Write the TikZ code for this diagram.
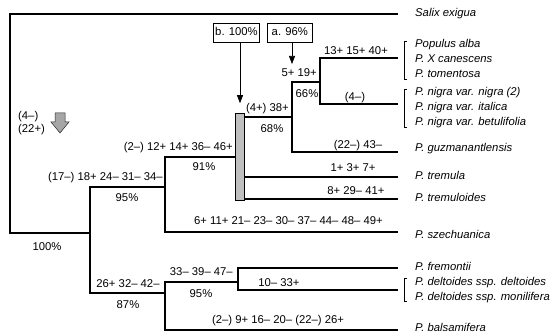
\documentclass[tikz,border=0pt]{standalone}
\usepackage{fontspec}
\setmainfont{Liberation Sans}
\usetikzlibrary{positioning, arrows.meta}

\begin{document}
\begin{tikzpicture}[
    x=1pt, y=-1pt,
    branch/.style={line width=1.9pt},
    lbl/.style={font=\fontsize{11.3}{13}\selectfont, inner sep=1pt, text height=8.5pt, text depth=2.5pt},
    taxon/.style={lbl, font=\fontsize{11.3}{13}\selectfont\itshape, anchor=west},
    brk/.style={line width=0.5pt},
    tag/.style={lbl, draw, line width=0.6pt, minimum width=45pt, minimum height=19pt, inner sep=2pt},
    ptr/.style={-{Triangle[length=8pt,width=6pt]}, line width=0.6pt},
    cladebox/.style={draw, line width=0.6pt, fill=gray!50, minimum width=9pt, minimum height=87pt, inner sep=0pt},
    bigarrow/.style={draw=black!85, line width=0.5pt, fill=gray!70}
]
\useasboundingbox (0,0) rectangle (560,334);

% branch points and tips
\coordinate (root) at (10,124);
\coordinate (nA) at (90,233);
\coordinate (nB) at (165,187);
\coordinate (nE) at (165,293);
\coordinate (nD) at (292,117);
\coordinate (nF) at (320,82);
\coordinate (nG) at (238,282);
\coordinate (tSal) at (398,14);
\coordinate (tPop) at (398,58);
\coordinate (tNig) at (398,104);
\coordinate (tGuz) at (398,152);
\coordinate (tTre) at (398,177);
\coordinate (tTrd) at (398,199);
\coordinate (tSze) at (398,232);
\coordinate (tFre) at (398,268);
\coordinate (tDel) at (398,290);
\coordinate (tBal) at (398,330);

\node[cladebox] (clade) at (240,157) {};

% tree
\draw[branch] (root) |- (tSal);
\draw[branch] (root) |- (nA);
\draw[branch] (nA) |- (nB);
\draw[branch] (nA) |- (nE);
\draw[branch] (nB) |- (clade.west);
\draw[branch] (nB) |- (tSze);
\draw[branch] (nD -| clade.east) -- (nD);
\draw[branch] (tTre -| clade.east) -- (tTre);
\draw[branch] (tTrd -| clade.east) -- (tTrd);
\draw[branch] (nD) |- (nF);
\draw[branch] (nD) |- (tGuz);
\draw[branch] (nF) |- (tPop);
\draw[branch] (nF) |- (tNig);
\draw[branch] (nE) |- (nG);
\draw[branch] (nE) |- (tBal);
\draw[branch] (nG) |- (tFre);
\draw[branch] (nG) |- (tDel);

% taxa
\node[taxon] (sal) at (414,14) {Salix exigua};
\node[taxon] (popA) at (414,45) {Populus alba};
\node[taxon] (popB) at (414,60) {P. X canescens};
\node[taxon] (popC) at (414,75) {P. tomentosa};
\node[taxon] (nigA) at (414,93) {P. nigra var. nigra (2)};
\node[taxon] (nigB) at (414,108) {P. nigra var. italica};
\node[taxon] (nigC) at (414,123) {P. nigra var. betulifolia};
\node[taxon] (guz) at (414,149) {P. guzmanantlensis};
\node[taxon] (tre) at (414,176) {P. tremula};
\node[taxon] (trd) at (414,199) {P. tremuloides};
\node[taxon] (sze) at (414,236) {P. szechuanica};
\node[taxon] (fre) at (414,267) {P. fremontii};
\node[taxon] (delA) at (414,282) {P. deltoides ssp. deltoides};
\node[taxon] (delB) at (414,297) {P. deltoides ssp. monilifera};
\node[taxon] (bal) at (414,328) {P. balsamifera};

\foreach \a/\b in {popA/popC, nigA/nigC, delA/delB}
    \draw[brk] ([xshift=-7pt,yshift=4pt]\a.west) -- ([xshift=-10pt,yshift=4pt]\a.west)
        -- ([xshift=-10pt,yshift=-4pt]\b.west) -- ([xshift=-7pt,yshift=-4pt]\b.west);

% character changes and bootstrap values
\node[lbl, anchor=south east] at (164,184.5) {(17–) 18+ 24– 31– 34–};
\node[lbl, anchor=north] at (127,191.5) {95\%};
\node[lbl, anchor=north] at (47,240.5) {100\%};
\node[lbl, anchor=south east] at (234,154.5) {(2–) 12+ 14+ 36– 46+};
\node[lbl, anchor=north] at (204,160.5) {91\%};
\node[lbl, anchor=south east] at (384,228.5) {6+ 11+ 21– 23– 30– 37– 44– 48– 49+};
\node[lbl, anchor=south east] at (290,115.5) {(4+) 38+};
\node[lbl, anchor=north] at (272,122.5) {68\%};
\node[lbl, anchor=south east] at (318,80.5) {5+ 19+};
\node[lbl] at (307,95) {66\%};
\node[lbl, anchor=south] at (356,58.5) {13+ 15+ 40+};
\node[lbl, anchor=south] at (355,104.5) {(4–)};
\node[lbl, anchor=south] at (358,152.5) {(22–) 43–};
\node[lbl, anchor=south] at (353,175.5) {1+ 3+ 7+};
\node[lbl, anchor=south] at (356,198.5) {8+ 29– 41+};
\node[lbl, anchor=south] at (128,291.5) {26+ 32– 42–};
\node[lbl, anchor=north] at (128,298.5) {87\%};
\node[lbl, anchor=south east] at (234,279.5) {33– 39– 47–};
\node[lbl, anchor=north] at (201,287.5) {95\%};
\node[lbl, anchor=south] at (279,290.5) {10– 33+};
\node[lbl, anchor=south] at (278,327.5) {(2–) 9+ 16– 20– (22–) 26+};

% root marker
\node[lbl, anchor=west] (lossA) at (17,117) {(4–)};
\node[lbl, anchor=west] (lossB) at (17,130) {(22+)};
\draw[bigarrow] (55,113) -- (65,113) -- (65,122) -- (69,122) -- (60,133)
    -- (51,122) -- (55,122) -- cycle;

% analyses
\node[tag] (bbox) at (236.5,32.5) {b. 100\%};
\node[tag, right=7pt of bbox] (abox) {a. 96\%};
\draw[ptr, shorten >=10pt] (bbox.south -| clade.north) -- (clade.north);
\draw[ptr, shorten >=18pt] (abox.south -| nD) -- (nD |- nF);
\end{tikzpicture}
\end{document}
